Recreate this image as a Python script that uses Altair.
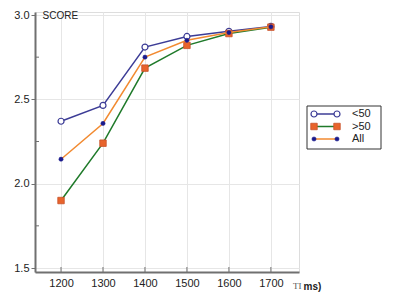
import altair as alt
import pandas as pd

# ---- data ----
ti = [1200, 1300, 1400, 1500, 1600, 1700]
score_lt50 = [2.37, 2.464, 2.81, 2.873, 2.903, 2.932]
score_gt50 = [1.90, 2.24, 2.685, 2.82, 2.89, 2.928]
score_all = [2.145, 2.357, 2.75, 2.85, 2.896, 2.93]
series_names = ["<50", ">50", "All"]

y_major = [1.5, 2.0, 2.5, 3.0]
y_minor = [1.75, 2.25, 2.75]

W, H = 264, 260
xdom = [1138, 1767]
ydom = [1.4763, 3.0178]

xs = alt.Scale(domain=xdom, nice=False, zero=False)
ys = alt.Scale(domain=ydom, nice=False, zero=False)

AX = "#707070"
FONT = "Liberation Sans"

def df_for(vals, name):
    return pd.DataFrame({"TI": ti, "score": vals, "series": name})

d_lt = df_for(score_lt50, series_names[0])
d_gt = df_for(score_gt50, series_names[1])
d_all = df_for(score_all, series_names[2])
d_any = pd.concat([d_lt, d_gt, d_all])

xenc = alt.X("TI:Q", scale=xs,
             axis=alt.Axis(values=ti, format="d", grid=True, gridColor="#e6e6e6",
                           tickSize=0, labelPadding=5, domainColor=AX, domainWidth=2,
                           labelFont=FONT, labelFontSize=11, labelColor="#222",
                           title="ms)", titleFont=FONT, titleFontSize=10, titleFontWeight="bold",
                           titleColor="#222", titleX=268, titleY=14, titleAlign="left",
                           titleBaseline="middle", titleAnchor="start"))
yenc = alt.Y("score:Q", scale=ys,
             axis=alt.Axis(values=y_major, format=".1f", grid=True, gridColor="#e6e6e6",
                           tickSize=4, tickColor=AX, labelPadding=2, domainColor=AX, domainWidth=2,
                           labelFont=FONT, labelFontSize=11, labelColor="#222",
                           title="SCORE", titleAngle=0, titleX=7, titleY=3, titleAlign="left",
                           titleBaseline="middle", titleFont=FONT, titleFontSize=10,
                           titleFontWeight="normal", titleColor="#222"))

base_axes = alt.Chart(d_any).mark_point(opacity=0).encode(x=xenc, y=yenc)

def line(d, color):
    return alt.Chart(d).mark_line(color=color, strokeWidth=1.5).encode(
        x=alt.X("TI:Q", scale=xs), y=alt.Y("score:Q", scale=ys))

def pts(d, shape, fill, stroke, size, sw=1.2):
    return alt.Chart(d).mark_point(shape=shape, filled=True, fill=fill, stroke=stroke,
                                   strokeWidth=sw, size=size, opacity=1).encode(
        x=alt.X("TI:Q", scale=xs), y=alt.Y("score:Q", scale=ys))

NAVY = "#3c3c96"
GREEN = "#1f7a2a"
ORANGE_SQ = "#e8642c"
ORANGE_LN = "#f28a30"
DOT = "#1a1a8c"

styles = [
    dict(line=NAVY, shape="circle", fill="white", stroke=NAVY, size=36, sw=1.2),
    dict(line=GREEN, shape="square", fill=ORANGE_SQ, stroke="#c8502a", size=42, sw=0.8),
    dict(line=ORANGE_LN, shape="circle", fill=DOT, stroke=DOT, size=18, sw=0.5),
]

layers = [base_axes]
for d, s in zip([d_lt, d_gt, d_all], styles):
    layers.append(line(d, s["line"]))
    layers.append(pts(d, s["shape"], s["fill"], s["stroke"], s["size"], s["sw"]))

# inward ticks
xt = alt.Chart(pd.DataFrame({"TI": ti})).mark_rule(color=AX, strokeWidth=1).encode(
    x=alt.X("TI:Q", scale=xs), y=alt.value(H), y2=alt.value(H - 5))
yt = alt.Chart(pd.DataFrame({"score": y_minor})).mark_rule(color=AX, strokeWidth=1).encode(
    y=alt.Y("score:Q", scale=ys), x=alt.value(0), x2=alt.value(4))
layers += [xt, yt]

# "TI" part of x title
one = pd.DataFrame({"a": [0]})
layers.append(alt.Chart(one).mark_text(text="TI", font="Liberation Serif", fontSize=9,
                                       color="#555", align="left", baseline="middle").encode(
    x=alt.value(258), y=alt.value(H + 14)))

# legend
layers.append(alt.Chart(one).mark_rect(fill="white", stroke="#333", strokeWidth=1).encode(
    x=alt.value(272), x2=alt.value(346), y=alt.value(94), y2=alt.value(137)))
for i, (name, s) in enumerate(zip(series_names, styles)):
    yy = 102 + i * 12.5
    layers.append(alt.Chart(one).mark_rule(color=s["line"], strokeWidth=1.5).encode(
        x=alt.value(279), x2=alt.value(302), y=alt.value(yy)))
    for xx in (279, 302):
        layers.append(alt.Chart(one).mark_point(shape=s["shape"], filled=True, fill=s["fill"],
                                                stroke=s["stroke"], strokeWidth=s["sw"],
                                                size=s["size"], opacity=1).encode(
            x=alt.value(xx), y=alt.value(yy)))
    layers.append(alt.Chart(one).mark_text(text=name, font=FONT, fontSize=11, color="#222",
                                           align="left", baseline="middle").encode(
        x=alt.value(317), y=alt.value(yy)))

chart = alt.layer(*layers).properties(
    width=W, height=H,
    padding={"left": 27, "top": 4, "right": 93, "bottom": 20},
    autosize=alt.AutoSizeParams(type="none"),
).configure_view(stroke=None).configure(background="white")

chart.save("out.html", embed_options={"renderer": "svg", "actions": False})
